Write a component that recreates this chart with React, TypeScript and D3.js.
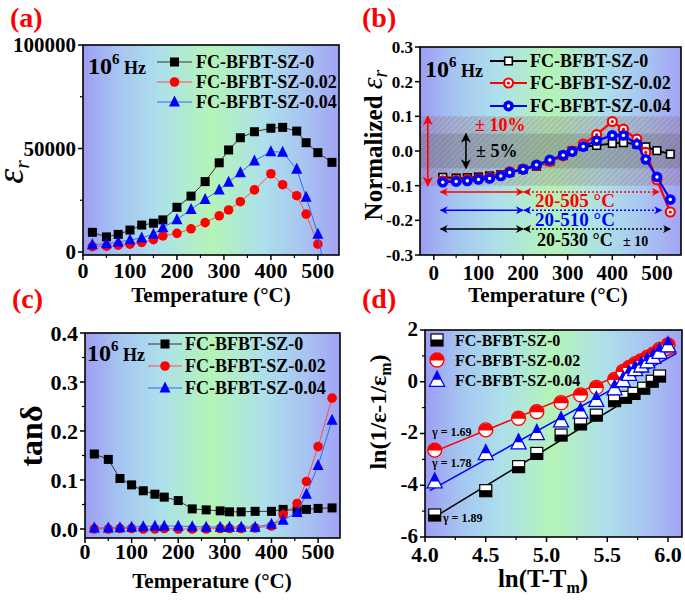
import React from 'react';
import * as d3 from 'd3';

const FONT = "'Liberation Serif','Times New Roman',serif";
const SERIES = ['FC-BFBT-SZ-0', 'FC-BFBT-SZ-0.02', 'FC-BFBT-SZ-0.04'];

// Temperatures (°C)
const temps = [20, 50, 75, 100, 125, 150, 170, 200, 230, 260, 290, 310, 335, 365, 400, 425, 455, 475, 500, 530];

// (a) permittivity at 1 MHz
const epsSZ0 = [9500, 7300, 8500, 10600, 13000, 13900, 15500, 21600, 27000, 34000, 43100, 49300, 55200, 58100, 59800, 60200, 58400, 52800, 48000, 43300];
const epsSZ002 = [2600, 2800, 3300, 3800, 4600, 6000, 7800, 9000, 11200, 14200, 17500, 20300, 24300, 30000, 37800, 32500, 27200, 18300, 3800];
const epsSZ004 = [3500, 4000, 4800, 5800, 6800, 8600, 11800, 15600, 20600, 25400, 30000, 33800, 38300, 44000, 48500, 48200, 40000, 26500, 8600, -28000];

// (b) normalized permittivity
const normSZ0 = [-0.076, -0.078, -0.077, -0.075, -0.072, -0.068, -0.062, -0.053, -0.044, -0.030, -0.013, 0.000, 0.013, 0.016, 0.022, 0.024, 0.020, 0.012, 0.001, -0.009];
const normSZ002 = [-0.086, -0.085, -0.083, -0.080, -0.077, -0.070, -0.060, -0.052, -0.042, -0.030, -0.014, 0.000, 0.020, 0.047, 0.085, 0.063, 0.034, -0.004, -0.083, -0.176];
const normSZ004 = [-0.090, -0.088, -0.086, -0.082, -0.079, -0.072, -0.062, -0.053, -0.040, -0.026, -0.012, -0.002, 0.013, 0.030, 0.045, 0.045, 0.020, -0.024, -0.075, -0.140];
const bandLevels = [0.1, 0.05];
const arrowY = [-0.118, -0.171, -0.225];
const rangeStart = 15;
const rangeMid = 200;
const rangeEnds = [505, 510, 530];
const rangeLabels = ['20-505 °C', '20-510 °C', '20-530 °C'];

// (c) loss tangent
const tanSZ0 = [0.153, 0.142, 0.103, 0.090, 0.078, 0.071, 0.065, 0.058, 0.041, 0.039, 0.037, 0.035, 0.035, 0.036, 0.036, 0.040, 0.038, 0.040, 0.042, 0.043];
const tanSZ002 = [0.000, 0.000, 0.001, 0.001, 0.000, 0.000, 0.001, 0.000, 0.000, 0.000, 0.001, 0.001, 0.001, 0.002, 0.006, 0.029, 0.052, 0.097, 0.168, 0.267];
const tanSZ004 = [0.002, 0.002, 0.003, 0.004, 0.005, 0.006, 0.006, 0.006, 0.005, 0.004, 0.004, 0.004, 0.004, 0.004, 0.010, 0.018, 0.034, 0.071, 0.130, 0.222];

// (d) modified Curie-Weiss
const lnT_SZ0 = [4.08, 4.50, 4.77, 4.92, 5.12, 5.28, 5.41, 5.56, 5.65, 5.72, 5.80, 5.87, 5.93];
const lnE_SZ0 = [-5.15, -4.21, -3.28, -2.77, -2.06, -1.63, -1.29, -0.73, -0.60, -0.45, -0.25, 0.02, 0.22];
const lnT_SZ002 = [4.08, 4.50, 4.77, 4.92, 5.12, 5.28, 5.41, 5.56, 5.63, 5.68, 5.73, 5.78, 5.83, 5.88, 5.93, 6.00];
const lnE_SZ002 = [-2.64, -1.86, -1.41, -1.16, -0.81, -0.51, -0.22, 0.09, 0.40, 0.55, 0.70, 0.82, 0.95, 1.08, 1.25, 1.42];
const lnT_SZ004 = [4.08, 4.50, 4.77, 4.92, 5.12, 5.28, 5.41, 5.56, 5.63, 5.68, 5.73, 5.78, 5.83, 5.88, 5.93, 6.00];
const lnE_SZ004 = [-3.86, -2.77, -2.35, -1.99, -1.50, -1.16, -0.71, -0.26, 0.05, 0.30, 0.48, 0.62, 0.78, 0.95, 1.15, 1.40];
const fitX_SZ0 = [4.04, 5.98];
const fitY_SZ0 = [-5.34, 0.20];
const fitX_SZ002 = [4.04, 6.07];
const fitY_SZ002 = [-2.77, 1.16];
const fitX_SZ004 = [4.04, 6.07];
const fitY_SZ004 = [-4.21, 1.10];
const gammaLabels = ['γ = 1.69', 'γ = 1.78', 'γ = 1.89'];
const gammaX = [4.058, 4.058, 4.148];
const gammaY = [-2.10, -3.29, -5.42];

// ticks
const tempTicks = [0, 100, 200, 300, 400, 500];
const tempMinor = [50, 150, 250, 350, 450];
const ticksAy = [0, 50000, 100000];
const minorAy = [25000, 75000];
const ticksBy = [-0.3, -0.2, -0.1, 0.0, 0.1, 0.2, 0.3];
const ticksCy = [0.0, 0.1, 0.2, 0.3, 0.4];
const minorCy = [0.05, 0.15, 0.25, 0.35];
const ticksDx = [4.0, 4.5, 5.0, 5.5, 6.0];
const minorDx = [4.25, 4.75, 5.25, 5.75];
const ticksDy = [-6, -4, -2, 0, 2];
const minorDy = [-5, -3, -1, 1];

type Sc = d3.ScaleLinear<number, number>;

function Axes(p: { xs: Sc; ys: Sc; xTicks: number[]; xMinor: number[]; yTicks: number[]; yMinor: number[]; xFmt: (v: number) => string; yFmt: (v: number) => string; xFont: number; yFont: number; xDy: number; yDy?: string }) {
  const [l, r] = p.xs.range();
  const [b, t] = p.ys.range();
  return (
    <g fontFamily={FONT} fontWeight="bold">
      <rect x={l} y={t} width={r - l} height={b - t} fill="none" stroke="#000" strokeWidth={1.6} />
      {p.yTicks.map((v, i) => (
        <g key={'y' + i}>
          <line x1={l - 5} x2={l} y1={p.ys(v)} y2={p.ys(v)} stroke="#000" strokeWidth={1.5} />
          <text x={l - 7} y={p.ys(v)} dy={p.yDy || '0.35em'} textAnchor="end" fontSize={p.yFont}>{p.yFmt(v)}</text>
        </g>
      ))}
      {p.yMinor.map((v, i) => (
        <line key={'ym' + i} x1={l - 3} x2={l} y1={p.ys(v)} y2={p.ys(v)} stroke="#000" strokeWidth={1.2} />
      ))}
      {p.xTicks.map((v, i) => (
        <g key={'x' + i}>
          <line x1={p.xs(v)} x2={p.xs(v)} y1={b} y2={b + 5} stroke="#000" strokeWidth={1.5} />
          <text x={p.xs(v)} y={b + p.xDy} textAnchor="middle" fontSize={p.xFont}>{p.xFmt(v)}</text>
        </g>
      ))}
      {p.xMinor.map((v, i) => (
        <line key={'xm' + i} x1={p.xs(v)} x2={p.xs(v)} y1={b} y2={b + 3} stroke="#000" strokeWidth={1.2} />
      ))}
    </g>
  );
}

function Bg({ xs, ys, id }: { xs: Sc; ys: Sc; id: string }) {
  const [l, r] = xs.range();
  const [b, t] = ys.range();
  return (
    <>
      <clipPath id={id}><rect x={l} y={t} width={r - l} height={b - t} /></clipPath>
      <rect x={l} y={t} width={r - l} height={b - t} fill="url(#bggrad)" />
    </>
  );
}

function triPath(cx: number, cy: number, s: number) {
  return `M${cx},${cy - s * 0.58}L${cx - s / 2},${cy + s * 0.42}L${cx + s / 2},${cy + s * 0.42}Z`;
}

function marker(kind: string, cx: number, cy: number, key: string | number) {
  switch (kind) {
    case 'sqA':
      return <rect key={key} x={cx - 4.5} y={cy - 4.5} width={9} height={9} fill="#000" />;
    case 'cirA':
      return <circle key={key} cx={cx} cy={cy} r={4.8} fill="#ff0000" />;
    case 'triA':
      return <path key={key} d={triPath(cx, cy, 11)} fill="#0000ff" />;
    case 'sqB':
      return <rect key={key} x={cx - 3.8} y={cy - 3.8} width={7.6} height={7.6} fill="#fff" stroke="#000" strokeWidth={1.6} />;
    case 'cirB':
      return (
        <g key={key}>
          <circle cx={cx} cy={cy} r={4.5} fill="#fff" stroke="#ff0000" strokeWidth={2.2} />
          <circle cx={cx} cy={cy} r={1.6} fill="#ff0000" />
        </g>
      );
    case 'cirB2':
      return (
        <g key={key}>
          <circle cx={cx} cy={cy} r={5.4} fill="#0000ff" />
          <circle cx={cx} cy={cy} r={1.7} fill="#fff" />
        </g>
      );
    case 'sqD':
      return (
        <g key={key}>
          <rect x={cx - 6} y={cy - 6} width={12} height={12} fill="#fff" stroke="#000" strokeWidth={1.2} />
          <rect x={cx - 6} y={cy - 0.5} width={12} height={6.5} fill="#000" />
        </g>
      );
    case 'cirD':
      return (
        <g key={key}>
          <circle cx={cx} cy={cy} r={7} fill="#fff" stroke="#ff0000" strokeWidth={1.3} />
          <path d={`M${cx - 7},${cy + 0.5}A7,7 0 0 1 ${cx + 7},${cy + 0.5}Z`} fill="#ff0000" />
        </g>
      );
    case 'triD': {
      const s = 15;
      const top = cy - s * 0.58, bot = cy + s * 0.42, mid = (top + bot) / 2 + 1;
      const hw = (s / 2) * ((mid - top) / (bot - top));
      return (
        <g key={key}>
          <path d={triPath(cx, cy, s)} fill="#fff" stroke="#0000ff" strokeWidth={1.3} />
          <path d={`M${cx},${top}L${cx - hw},${mid}L${cx + hw},${mid}Z`} fill="#0000ff" />
        </g>
      );
    }
  }
  return null;
}

function Series({ xs, ys, xv, yv, color, width, kind, clip }: { xs: Sc; ys: Sc; xv: number[]; yv: number[]; color: string; width: number; kind: string; clip: string }) {
  const pts = d3.zip(xv, yv) as [number, number][];
  const line = d3.line<[number, number]>().x(d => xs(d[0])).y(d => ys(d[1]));
  return (
    <g clipPath={`url(#${clip})`}>
      <path d={line(pts) || ''} fill="none" stroke={color} strokeWidth={width} />
      {pts.map((d, i) => marker(kind, xs(d[0]), ys(d[1]), i))}
    </g>
  );
}

function Hz({ x, y }: { x: number; y: number }) {
  return (
    <text x={x} y={y} fontFamily={FONT} fontWeight="bold" fill="#000">
      <tspan fontSize={24}>10</tspan>
      <tspan fontSize={15} dy={-10}>6</tspan>
      <tspan fontSize={18} dy={10}> Hz</tspan>
    </text>
  );
}

function LineLegend({ x1, x2, tx, rows, colors, widths, kinds, font }: { x1: number; x2: number; tx: number; rows: number[]; colors: string[]; widths: number[]; kinds: string[]; font: number }) {
  return (
    <g>
      {SERIES.map((s, i) => (
        <g key={i}>
          <line x1={x1} x2={x2} y1={rows[i]} y2={rows[i]} stroke={colors[i]} strokeWidth={widths[i]} />
          {marker(kinds[i], (x1 + x2) / 2, rows[i], 'm')}
          <text x={tx} y={rows[i]} dy="0.35em" fontFamily={FONT} fontWeight="bold" fontSize={font}>{s}</text>
        </g>
      ))}
    </g>
  );
}

export default function App() {
  const xA = d3.scaleLinear().domain([0, 545]).range([83, 339]);
  const yA = d3.scaleLinear().domain([-1450, 100000]).range([255, 45]);
  const xB = d3.scaleLinear().domain([-31, 554]).range([420, 681]);
  const yB = d3.scaleLinear().domain([-0.3, 0.3]).range([255, 47]);
  const xC = d3.scaleLinear().domain([0, 547]).range([85, 340]);
  const yC = d3.scaleLinear().domain([-0.0184, 0.4]).range([538, 333]);
  const xD = d3.scaleLinear().domain([4, 6.115]).range([425, 682]);
  const yD = d3.scaleLinear().domain([-6, 2]).range([537, 330]);

  const lineColA = ['#333', '#ff4d4d', '#2d6bff'];
  const arrowCols = ['#ff0000', '#0000ff', '#000000'];
  const arrowNames = ['r', 'b', 'k'];

  const fixed1 = (v: number) => v.toFixed(1);
  const plain = (v: number) => String(v);

  return (
    <svg width={685} height={600} style={{ position: 'absolute', left: 0, top: 0, background: '#fff' }} fontFamily={FONT}>
      <defs>
        <linearGradient id="bggrad" x1="0" x2="1" y1="0" y2="0">
          <stop offset="0" stopColor="#9d9df3" />
          <stop offset="0.14" stopColor="#a6c6f1" />
          <stop offset="0.3" stopColor="#ade0eb" />
          <stop offset="0.5" stopColor="#b4f4b6" />
          <stop offset="0.7" stopColor="#ade0eb" />
          <stop offset="0.86" stopColor="#a8c5f1" />
          <stop offset="1" stopColor="#a2a3f5" />
        </linearGradient>
        <pattern id="hatch" width="4" height="4" patternUnits="userSpaceOnUse" patternTransform="rotate(45)">
          <line x1="0" y1="0" x2="0" y2="4" stroke="rgba(60,60,60,0.3)" strokeWidth="1" />
        </pattern>
        {arrowNames.map((n, i) => (
          <marker key={n} id={'arr-' + n} viewBox="0 0 10 10" refX="9" refY="5" markerWidth="10" markerHeight="8" orient="auto-start-reverse" markerUnits="userSpaceOnUse">
            <path d="M0,0L10,5L0,10L3,5Z" fill={arrowCols[i]} />
          </marker>
        ))}
        <marker id="arr-kv" viewBox="0 0 10 10" refX="9" refY="5" markerWidth="12" markerHeight="10" orient="auto-start-reverse" markerUnits="userSpaceOnUse">
          <path d="M0,0L10,5L0,10L3,5Z" fill="#000" />
        </marker>
        <marker id="arr-rv" viewBox="0 0 10 10" refX="9" refY="5" markerWidth="12" markerHeight="10" orient="auto-start-reverse" markerUnits="userSpaceOnUse">
          <path d="M0,0L10,5L0,10L3,5Z" fill="#ff0000" />
        </marker>
      </defs>

      {/* ---------- (a) ---------- */}
      <Bg xs={xA} ys={yA} id="clipA" />
      <Series xs={xA} ys={yA} xv={temps} yv={epsSZ0} color={lineColA[0]} width={1} kind="sqA" clip="clipA" />
      <Series xs={xA} ys={yA} xv={temps} yv={epsSZ002} color={lineColA[1]} width={1} kind="cirA" clip="clipA" />
      <Series xs={xA} ys={yA} xv={temps} yv={epsSZ004} color={lineColA[2]} width={1} kind="triA" clip="clipA" />
      <Hz x={88} y={74} />
      <LineLegend x1={157} x2={192} tx={196} rows={[62, 82, 102]} colors={lineColA} widths={[1, 1, 1]} kinds={['sqA', 'cirA', 'triA']} font={18} />
      <Axes xs={xA} ys={yA} xTicks={tempTicks} xMinor={tempMinor} yTicks={ticksAy} yMinor={minorAy} xFmt={plain} yFmt={plain} xFont={22} yFont={21} xDy={23} />
      <text x={211} y={302} textAnchor="middle" fontWeight="bold" fontSize={21}>Temperature (°C)</text>
      <text transform="translate(23,172) rotate(-90)" textAnchor="middle" fontStyle="italic">
        <tspan fontSize={38}>ε</tspan>
        <tspan fontSize={22} dy={6}>r</tspan>
      </text>
      <text x={10} y={27} fontWeight="bold" fontSize={28} fill="#ff0000">(a)</text>

      {/* ---------- (b) ---------- */}
      <Bg xs={xB} ys={yB} id="clipB" />
      <g clipPath="url(#clipB)">
        <rect x={xB.range()[0]} width={xB.range()[1] - xB.range()[0]} y={yB(bandLevels[0])} height={yB(-bandLevels[0]) - yB(bandLevels[0])} fill="rgba(160,115,125,0.26)" />
        <rect x={xB.range()[0]} width={xB.range()[1] - xB.range()[0]} y={yB(bandLevels[0])} height={yB(-bandLevels[0]) - yB(bandLevels[0])} fill="url(#hatch)" />
        <rect x={xB.range()[0]} width={xB.range()[1] - xB.range()[0]} y={yB(bandLevels[1])} height={yB(-bandLevels[1]) - yB(bandLevels[1])} fill="rgba(90,90,90,0.25)" />
      </g>
      {arrowY.map((v, i) => (
        <g key={'ar' + i}>
          <line x1={xB(rangeStart)} x2={xB(rangeMid)} y1={yB(v)} y2={yB(v)} stroke={arrowCols[i]} strokeWidth={1.5} markerStart={`url(#arr-${arrowNames[i]})`} markerEnd={`url(#arr-${arrowNames[i]})`} />
          <line x1={xB(rangeMid + 2)} x2={xB(rangeEnds[i])} y1={yB(v)} y2={yB(v)} stroke={arrowCols[i]} strokeWidth={1.5} strokeDasharray="2,2" markerStart={`url(#arr-${arrowNames[i]})`} markerEnd={`url(#arr-${arrowNames[i]})`} />
        </g>
      ))}
      <line x1={xB(-13.5)} x2={xB(-13.5)} y1={yB(bandLevels[0])} y2={yB(-bandLevels[0])} stroke="#ff0000" strokeWidth={1.6} markerStart="url(#arr-rv)" markerEnd="url(#arr-rv)" />
      <line x1={xB(72)} x2={xB(72)} y1={yB(bandLevels[1])} y2={yB(-bandLevels[1])} stroke="#000" strokeWidth={1.6} markerStart="url(#arr-kv)" markerEnd="url(#arr-kv)" />
      <text x={475} y={131} fontWeight="bold" fontSize={18} fill="#ff0000">± 10%</text>
      <text x={476} y={157} fontWeight="bold" fontSize={18} fill="#000">± 5%</text>
      <text x={535} y={207} fontWeight="bold" fontSize={19} fill="#ff0000">{rangeLabels[0]}</text>
      <text x={535} y={226} fontWeight="bold" fontSize={19} fill="#0000ff">{rangeLabels[1]}</text>
      <text x={537} y={246} fontWeight="bold" fontSize={18} fill="#000">{rangeLabels[2]}</text>
      <text x={623} y={246} fontWeight="bold" fontSize={14} fill="#000">± 10</text>
      <Series xs={xB} ys={yB} xv={temps} yv={normSZ0} color="#000" width={2} kind="sqB" clip="clipB" />
      <Series xs={xB} ys={yB} xv={temps} yv={normSZ002} color="#ff0000" width={2.2} kind="cirB" clip="clipB" />
      <Series xs={xB} ys={yB} xv={temps} yv={normSZ004} color="#0000ff" width={2.2} kind="cirB2" clip="clipB" />
      <Hz x={425} y={77} />
      <LineLegend x1={490} x2={527} tx={530} rows={[61, 83, 106]} colors={['#000', '#ff0000', '#0000ff']} widths={[2, 2, 2]} kinds={['sqB', 'cirB', 'cirB2']} font={18} />
      <Axes xs={xB} ys={yB} xTicks={tempTicks} xMinor={tempMinor} yTicks={ticksBy} yMinor={[]} xFmt={plain} yFmt={fixed1} xFont={21} yFont={17} xDy={25} />
      <text x={548} y={302} textAnchor="middle" fontWeight="bold" fontSize={21}>Temperature (°C)</text>
      <text transform="translate(382,145) rotate(-90)" textAnchor="middle" fontWeight="bold">
        <tspan fontSize={25}>Normalized </tspan>
        <tspan fontSize={30} fontStyle="italic" fontWeight="normal">ε</tspan>
        <tspan fontSize={20} fontStyle="italic" fontWeight="normal" dy={5}>r</tspan>
      </text>
      <text x={362} y={27} fontWeight="bold" fontSize={28} fill="#ff0000">(b)</text>

      {/* ---------- (c) ---------- */}
      <Bg xs={xC} ys={yC} id="clipC" />
      <Series xs={xC} ys={yC} xv={temps} yv={tanSZ0} color={lineColA[0]} width={1} kind="sqA" clip="clipC" />
      <Series xs={xC} ys={yC} xv={temps} yv={tanSZ002} color={lineColA[1]} width={1} kind="cirA" clip="clipC" />
      <Series xs={xC} ys={yC} xv={temps} yv={tanSZ004} color={lineColA[2]} width={1} kind="triA" clip="clipC" />
      <Hz x={87} y={361} />
      <LineLegend x1={148} x2={182} tx={185} rows={[344, 366, 388]} colors={lineColA} widths={[1, 1, 1]} kinds={['sqA', 'cirA', 'triA']} font={18} />
      <Axes xs={xC} ys={yC} xTicks={tempTicks} xMinor={tempMinor} yTicks={ticksCy} yMinor={minorCy} xFmt={plain} yFmt={fixed1} xFont={22} yFont={22} xDy={21} />
      <text x={212} y={588} textAnchor="middle" fontWeight="bold" fontSize={21}>Temperature (°C)</text>
      <text transform="translate(42,436) rotate(-90)" textAnchor="middle" fontWeight="bold" fontSize={32}>tanδ</text>
      <text x={12} y={308} fontWeight="bold" fontSize={28} fill="#ff0000">(c)</text>

      {/* ---------- (d) ---------- */}
      <Bg xs={xD} ys={yD} id="clipD" />
      <g clipPath="url(#clipD)">
        <path d={d3.line()((d3.zip(fitX_SZ0, fitY_SZ0) as [number, number][]).map(d => [xD(d[0]), yD(d[1])])) || ''} stroke="#000" strokeWidth={1.5} fill="none" />
        <path d={d3.line()((d3.zip(fitX_SZ002, fitY_SZ002) as [number, number][]).map(d => [xD(d[0]), yD(d[1])])) || ''} stroke="#ff0000" strokeWidth={1.5} fill="none" />
        <path d={d3.line()((d3.zip(fitX_SZ004, fitY_SZ004) as [number, number][]).map(d => [xD(d[0]), yD(d[1])])) || ''} stroke="#0000ff" strokeWidth={1.5} fill="none" />
        {lnT_SZ0.map((v, i) => marker('sqD', xD(v), yD(lnE_SZ0[i]), 'k' + i))}
        {lnT_SZ002.map((v, i) => marker('cirD', xD(v), yD(lnE_SZ002[i]), 'r' + i))}
        {lnT_SZ004.map((v, i) => marker('triD', xD(v), yD(lnE_SZ004[i]), 'b' + i))}
      </g>
      {gammaLabels.map((g, i) => (
        <text key={g} x={xD(gammaX[i])} y={yD(gammaY[i])} fontWeight="bold" fontSize={12}>{g}</text>
      ))}
      {SERIES.map((s, i) => (
        <g key={'ld' + i}>
          {marker(['sqD', 'cirD', 'triD'][i], 437, [340, 360, 380][i], 'm')}
          <text x={455} y={[340, 360, 380][i]} dy="0.35em" fontWeight="bold" fontSize={16}>{s}</text>
        </g>
      ))}
      <Axes xs={xD} ys={yD} xTicks={ticksDx} xMinor={minorDx} yTicks={ticksDy} yMinor={minorDy} xFmt={fixed1} yFmt={plain} xFont={22} yFont={21} xDy={25} yDy="0.28em" />
      <text x={543} y={587} textAnchor="middle" fontWeight="bold" fontSize={25}>
        ln(T-T<tspan fontSize={16} dy={6}>m</tspan><tspan dy={-6}>)</tspan>
      </text>
      <text transform="translate(386,412) rotate(-90)" textAnchor="middle" fontWeight="bold" fontSize={24}>
        ln(1/ε-1/ε<tspan fontSize={16} dy={5}>m</tspan><tspan dy={-5}>)</tspan>
      </text>
      <text x={362} y={308} fontWeight="bold" fontSize={28} fill="#ff0000">(d)</text>
    </svg>
  );
}
